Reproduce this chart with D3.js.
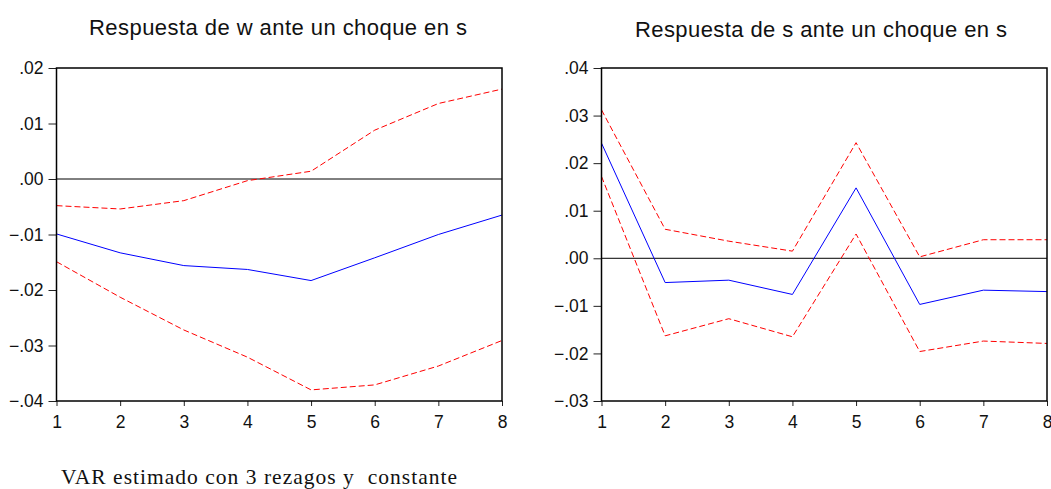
<!DOCTYPE html>
<html>
<head>
<meta charset="utf-8">
<script src="https://cdn.jsdelivr.net/npm/d3@7"></script>
<style>
  body { margin: 0; background: #fff; }
  svg { display: block; }
</style>
</head>
<body>
<svg id="chart" width="1051" height="489"></svg>
<script>
// periods after the shock
var periods = [1, 2, 3, 4, 5, 6, 7, 8];

// response of w to a shock in s (blue = point estimate, red = bands)
var wResp  = [-0.0099, -0.0133, -0.0156, -0.0163, -0.0183, -0.0142, -0.0100, -0.0065];
var wUpper = [-0.0048, -0.0054, -0.0039, -0.0003, 0.0014, 0.0088, 0.0136, 0.0162];
var wLower = [-0.0149, -0.0213, -0.0272, -0.0321, -0.0380, -0.0371, -0.0337, -0.0291];

// response of s to a shock in s
var sResp  = [0.0242, -0.0051, -0.0046, -0.0076, 0.0148, -0.0097, -0.0067, -0.0070];
var sUpper = [0.0312, 0.0061, 0.0036, 0.0015, 0.0243, 0.0003, 0.0039, 0.0039];
var sLower = [0.0172, -0.0163, -0.0127, -0.0165, 0.0051, -0.0196, -0.0174, -0.0179];

var wTicks = [-0.04, -0.03, -0.02, -0.01, 0, 0.01, 0.02];
var sTicks = [-0.03, -0.02, -0.01, 0, 0.01, 0.02, 0.03, 0.04];

var titles = ["Respuesta de w ante un choque en s", "Respuesta de s ante un choque en s"];
var footer = "VAR estimado con 3 rezagos y  constante";

var svg = d3.select("#chart");

function fmt(v) {
	// eviews style: drop leading zero
	return d3.format(".2f")(v).replace("0.", ".");
}

function drawPanel(opts) {
	var x = d3.scaleLinear().domain([1, 8]).range([opts.left, opts.right]);
	var y = d3.scaleLinear().domain(opts.domain).range([opts.bottom, opts.top]);
	var g = svg.append("g");

	// title
	g.append("text")
		.attr("x", opts.titleX)
		.attr("y", opts.titleY)
		.attr("textLength", opts.titleW)
		.attr("lengthAdjust", "spacing")
		.style("font-family", "Liberation Sans, Arial, sans-serif")
		.style("font-size", "22px")
		.style("fill", "#111")
		.text(opts.title);

	// y axis
	var yAxis = d3.axisLeft(y).tickValues(opts.ticks).tickFormat(fmt).tickSize(8).tickPadding(5);
	var ya = g.append("g").attr("transform", "translate(" + opts.left + ",0)").call(yAxis);
	// x axis
	var xAxis = d3.axisBottom(x).tickValues(periods).tickFormat(d3.format("d")).tickSize(5).tickPadding(10);
	var xa = g.append("g").attr("transform", "translate(0," + opts.bottom + ")").call(xAxis);

	[ya, xa].forEach(function(a) {
		a.select(".domain").remove();
		a.selectAll("line").attr("stroke", "#222");
		a.selectAll("text")
			.style("font-family", "Liberation Sans, Arial, sans-serif")
			.style("font-size", "17.5px")
			.style("fill", "#111");
	});

	// zero line
	g.append("line")
		.attr("x1", opts.left).attr("x2", opts.right)
		.attr("y1", y(0)).attr("y2", y(0))
		.attr("stroke", "#000").attr("stroke-width", 1);

	var line = d3.line()
		.x(function(d, i) { return x(periods[i]); })
		.y(function(d) { return y(d); });

	[opts.upper, opts.lower].forEach(function(s) {
		g.append("path").datum(s)
			.attr("d", line)
			.attr("fill", "none")
			.attr("stroke", "#ff0000")
			.attr("stroke-width", 1)
			.attr("stroke-dasharray", "6,3");
	});
	g.append("path").datum(opts.resp)
		.attr("d", line)
		.attr("fill", "none")
		.attr("stroke", "#0000ff")
		.attr("stroke-width", 1);

	// frame
	g.append("rect")
		.attr("x", opts.left).attr("y", opts.top)
		.attr("width", opts.right - opts.left)
		.attr("height", opts.bottom - opts.top)
		.attr("fill", "none")
		.attr("stroke", "#000")
		.attr("stroke-width", 1.5);
}

drawPanel({
	left: 56.5, right: 502, top: 68, bottom: 401,
	domain: [-0.04, 0.02], ticks: wTicks,
	resp: wResp, upper: wUpper, lower: wLower,
	title: titles[0], titleX: 89, titleY: 35, titleW: 378
});

drawPanel({
	left: 601.5, right: 1047, top: 68, bottom: 401,
	domain: [-0.03, 0.04], ticks: sTicks,
	resp: sResp, upper: sUpper, lower: sLower,
	title: titles[1], titleX: 635, titleY: 37, titleW: 372
});

svg.append("text")
	.attr("x", 61)
	.attr("y", 484)
	.attr("textLength", 396)
	.attr("lengthAdjust", "spacing")
	.style("white-space", "pre")
	.style("font-family", "Liberation Serif, Times New Roman, serif")
	.style("font-size", "21.5px")
	.style("fill", "#111")
	.text(footer);
</script>
</body>
</html>
